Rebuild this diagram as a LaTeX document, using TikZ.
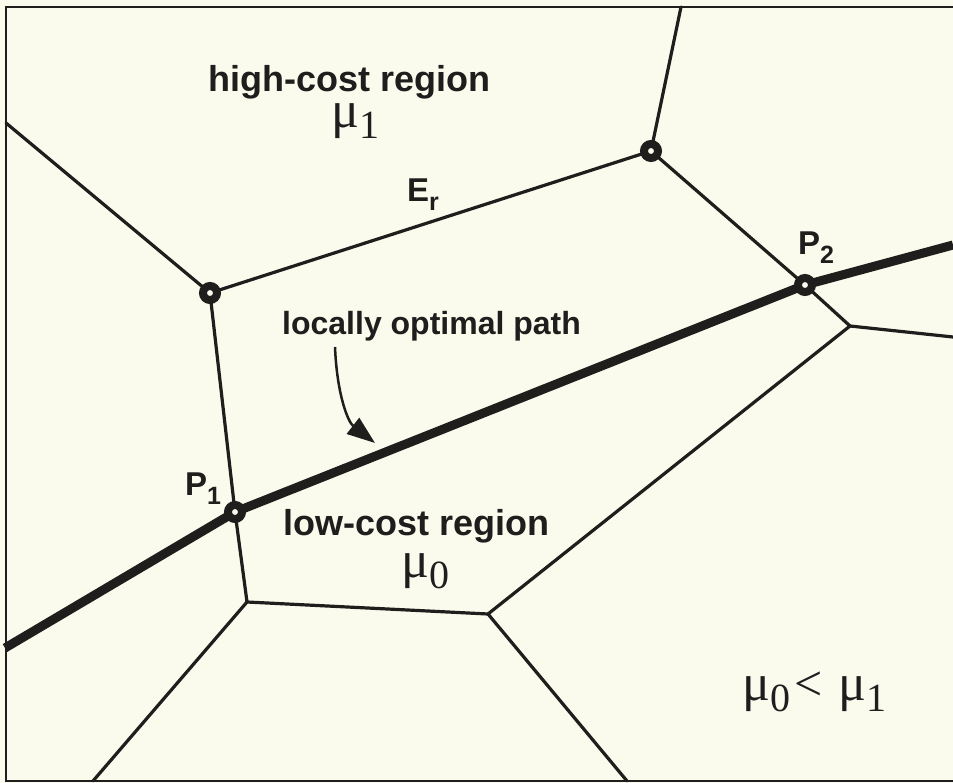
\documentclass[tikz,border=0pt]{standalone}
\usepackage{fontspec}
\setmainfont{Liberation Sans}
\newfontfamily\tms{Liberation Serif}
\usetikzlibrary{arrows.meta}
\definecolor{bg}{RGB}{250,250,237}
\definecolor{ink}{RGB}{32,30,29}
\newcommand{\muL}[1]{{\tms\fontsize{52}{52}\selectfont\raisebox{0pt}[24pt][12pt]{μ}\raisebox{-11pt}[0pt][0pt]{\fontsize{40}{40}\selectfont #1}}}
\newcommand{\subB}[1]{\raisebox{-9pt}{\fontsize{25}{25}\selectfont #1}}
\begin{document}
\begin{tikzpicture}[x=1pt,y=-1pt,
  edge/.style={draw=ink,line width=3.2pt,line cap=round,line join=round},
  pathline/.style={draw=ink,line width=9pt,line join=round},
  frameline/.style={draw=ink,line width=2pt},
  ring/.style={circle,draw=ink,fill=bg,line width=8pt,minimum size=14pt,inner sep=0pt},
  lab/.style={anchor=base west,inner sep=0pt,text=ink,font=\bfseries\fontsize{36}{36}\selectfont},
  plab/.style={anchor=base west,inner sep=0pt,text=ink,font=\bfseries\fontsize{33}{33}\selectfont},
  mulab/.style={anchor=base west,inner sep=0pt,text=ink}]
\fill[bg] (0,0) rectangle (953,783);
\useasboundingbox (0,0) rectangle (953,783);
% frame
\coordinate (FTL) at (6,7);
\coordinate (FTR) at (953,7);
\coordinate (FBL) at (6,781);
\coordinate (FBR) at (953,781);
\draw[frameline] (FTR) -- (FTL) -- (FBL) -- (FBR);
% vertices
\coordinate (A) at (210,293);
\coordinate (B) at (651,151);
\coordinate (P1) at (235,512);
\coordinate (P2) at (805,285);
\coordinate (C) at (850,326);
\coordinate (D) at (488,614);
\coordinate (E) at (247,602);
% boundary points
\coordinate (bL1) at (6,123);
\coordinate (bT1) at (681,7);
\coordinate (bR1) at (953,337);
\coordinate (bB1) at (93,781);
\coordinate (bB2) at (627,781);
\coordinate (pL) at (5,648);
\coordinate (pR) at (953,245);
% thin edges
\draw[edge] (bL1) -- (A);
\draw[edge] (A) -- (B);
\draw[edge] (B) -- (bT1);
\draw[edge] (B) -- (P2) -- (C);
\draw[edge] (C) -- (bR1);
\draw[edge] (C) -- (D);
\draw[edge] (A) -- (P1) -- (E);
\draw[edge] (E) -- (D);
\draw[edge] (E) -- (bB1);
\draw[edge] (D) -- (bB2);
% locally optimal path
\draw[pathline] (pL) -- (P1) -- (P2) -- (pR);
% rings
\node[ring] (rA) at (A) {};
\node[ring] (rB) at (B) {};
\node[ring] (rP1) at (P1) {};
\node[ring] (rP2) at (P2) {};
% labels
\node[lab] (hc) at (208,92) {high-cost region};
\node[mulab] (mu1) at (331,128) {\muL{1}};
\node[plab] (er) at (407,202) {E\subB{r}};
\node[lab,font=\bfseries\fontsize{32}{32}\selectfont] (lop) at (282,335) {locally optimal path};
\node[plab] (lp1) at (185,495) {P\subB{1}};
\node[plab] (lp2) at (798,255) {P\subB{2}};
\node[lab] (lc) at (283,535) {low-cost region};
\node[mulab] (mu0) at (401,577) {\muL{0}};
\node[mulab] (ineq) at (742,700) {\muL{0}\hspace{4pt}{\tms\fontsize{50}{50}\selectfont <}\hspace{16pt}\muL{1}};
% arrow
\coordinate (arS) at (335,347);
\coordinate (arE) at (375,443);
\draw[draw=ink,line width=2.5pt,-{Triangle[length=28pt,width=20pt]}] (arS) .. controls (337,395) and (348,422) .. (arE);
\end{tikzpicture}
\end{document}
